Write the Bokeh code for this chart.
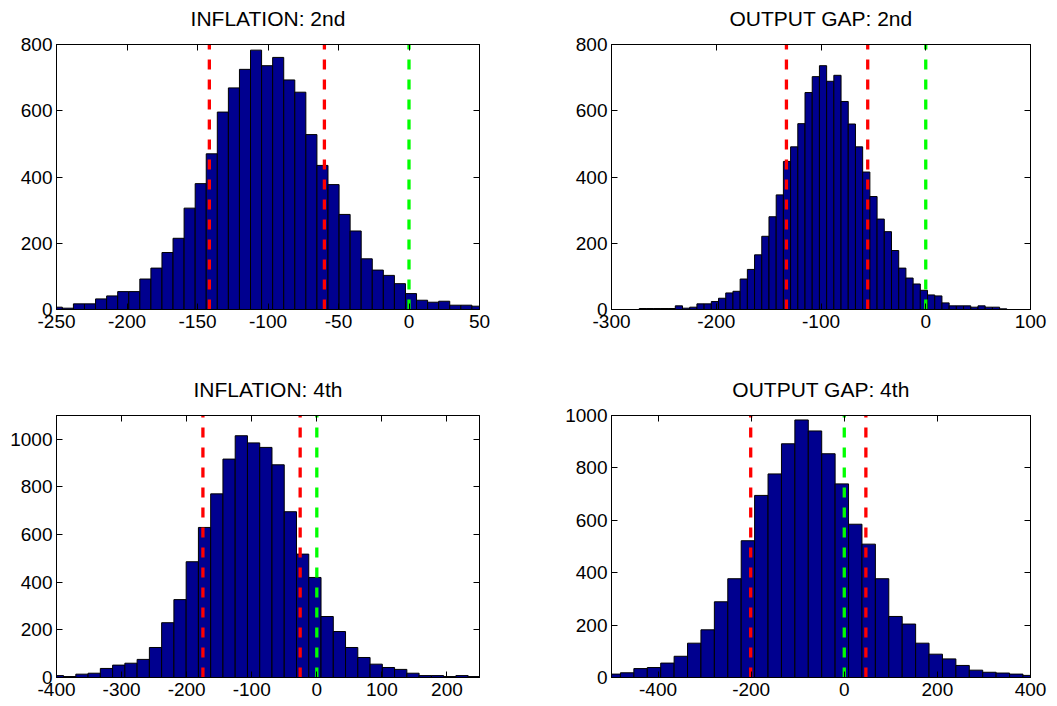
import numpy as np
from bokeh.plotting import figure
from bokeh.layouts import column, row
from bokeh.models import LinearAxis, FixedTicker, Range1d
from bokeh.embed import file_html
from bokeh.resources import INLINE

# ---------------- data ----------------
# INFLATION: 2nd
inf2_title = "INFLATION: 2nd"
inf2_first_edge = -253.7
inf2_bin_width = 7.85
inf2_counts = [7, 4, 17, 17, 32, 41, 54, 54, 92, 125, 172, 215, 306, 380, 470, 596, 669,
               725, 783, 736, 761, 693, 656, 528, 435, 377, 287, 237, 153, 119, 103, 78,
               48, 28, 22, 25, 13, 13, 10]
inf2_red = [-141.6, -60.0]
inf2_green = [0]
inf2_xticks = [-250, -200, -150, -100, -50, 0, 50]
inf2_yticks = [0, 200, 400, 600, 800]
inf2_xlim = (-250, 50)
inf2_ytop = 800

# OUTPUT GAP: 2nd
gap2_title = "OUTPUT GAP: 2nd"
gap2_first_edge = -273.5
gap2_bin_width = 6.88
gap2_counts = [3, 3, 3, 3, 3, 11, 4, 7, 17, 17, 24, 34, 50, 55, 92, 121, 165, 221, 280, 346,
               447, 491, 561, 655, 703, 736, 689, 707, 628, 560, 491, 415, 341, 273, 235,
               178, 125, 95, 77, 58, 44, 41, 20, 11, 11, 11, 7, 11, 7, 7, 2]
gap2_red = [-133.0, -55.4]
gap2_green = [0]
gap2_xticks = [-300, -200, -100, 0, 100]
gap2_yticks = [0, 200, 400, 600, 800]
gap2_xlim = (-300, 100)
gap2_ytop = 800

# INFLATION: 4th
inf4_title = "INFLATION: 4th"
inf4_first_edge = -408.0
inf4_bin_width = 18.84
inf4_counts = [8, 4, 14, 18, 38, 52, 60, 76, 126, 230, 327, 486, 630, 771, 917, 1015, 985,
               966, 893, 696, 518, 420, 256, 193, 126, 84, 56, 42, 34, 18, 8, 8, 4, 8, 4]
inf4_red = [-175.0, -25.6]
inf4_green = [0]
inf4_xticks = [-400, -300, -200, -100, 0, 100, 200]
inf4_yticks = [0, 200, 400, 600, 800, 1000]
inf4_xlim = (-400, 250)
inf4_ytop = 1100

# OUTPUT GAP: 4th
gap4_title = "OUTPUT GAP: 4th"
gap4_first_edge = -509.6
gap4_bin_width = 28.82
gap4_counts = [13, 18, 34, 38, 55, 81, 131, 182, 289, 377, 522, 695, 777, 892, 983, 941,
               854, 739, 585, 509, 377, 233, 204, 131, 89, 71, 46, 28, 20, 17, 13, 8]
gap4_red = [-201.0, 46.4]
gap4_green = [0]
gap4_xticks = [-400, -200, 0, 200, 400]
gap4_yticks = [0, 200, 400, 600, 800, 1000]
gap4_xlim = (-500, 400)
gap4_ytop = 1000

FONT = "Liberation Sans"
BAR = "#00008F"


def style_axis(ax, ticks, labels=True, standoff=4):
    ax.ticker = FixedTicker(ticks=ticks)
    ax.axis_line_color = "black"
    ax.major_tick_line_color = "black"
    ax.major_tick_in = 6
    ax.major_tick_out = 0
    ax.minor_tick_line_color = None
    ax.major_label_text_font = FONT
    ax.major_label_standoff = standoff
    if labels:
        ax.major_label_text_color = "black"
        ax.major_label_text_font_size = "19px"
        ax.major_label_overrides = {t: str(t) for t in ticks}
    else:
        ax.major_label_text_color = None
        ax.major_label_text_font_size = "1px"


def panel(title, first_edge, bin_width, counts, reds, greens, xticks, yticks, xlim, ytop,
          width, height, bl, br, bt, bb):
    counts = np.asarray(counts, dtype=float)
    left = first_edge + bin_width * np.arange(len(counts))
    right = left + bin_width
    p = figure(width=width, height=height, x_range=Range1d(*xlim), y_range=Range1d(0, ytop),
               output_backend="svg", toolbar_location=None,
               min_border_left=bl, min_border_right=br, min_border_top=bt, min_border_bottom=bb)
    p.xgrid.visible = False
    p.ygrid.visible = False
    p.outline_line_color = "black"
    p.outline_line_width = 1
    p.background_fill_color = "white"
    p.border_fill_color = "white"

    p.quad(left=left, right=right, bottom=0, top=counts, fill_color=BAR,
           line_color="black", line_width=1)
    for q in reds:
        p.line(x=[q, q], y=[0, ytop], line_color="#FF0000", line_width=3.3, line_dash="10 10")
    for q in greens:
        p.line(x=[q, q], y=[0, ytop], line_color="#00FF00", line_width=3.3, line_dash="10 10")

    style_axis(p.xaxis[0], xticks, standoff=5)
    style_axis(p.yaxis[0], yticks, standoff=4)
    # top axis: ticks only, carries the panel title as its label
    top_ax = LinearAxis()
    style_axis(top_ax, xticks, labels=False, standoff=0)
    top_ax.axis_label = title
    top_ax.axis_label_text_font = FONT
    top_ax.axis_label_text_font_size = "21px"
    top_ax.axis_label_text_font_style = "normal"
    top_ax.axis_label_text_color = "black"
    top_ax.axis_label_standoff = 15
    p.add_layout(top_ax, "above")
    right_ax = LinearAxis()
    style_axis(right_ax, yticks, labels=False, standoff=0)
    p.add_layout(right_ax, "right")
    return p


p1 = panel(inf2_title, inf2_first_edge, inf2_bin_width, inf2_counts, inf2_red, inf2_green,
           inf2_xticks, inf2_yticks, inf2_xlim, inf2_ytop, 530, 350, 56, 51, 44, 41)
p2 = panel(gap2_title, gap2_first_edge, gap2_bin_width, gap2_counts, gap2_red, gap2_green,
           gap2_xticks, gap2_yticks, gap2_xlim, gap2_ytop, 526, 350, 81, 26, 44, 41)
p3 = panel(inf4_title, inf4_first_edge, inf4_bin_width, inf4_counts, inf4_red, inf4_green,
           inf4_xticks, inf4_yticks, inf4_xlim, inf4_ytop, 530, 355, 56, 51, 65, 28)
p4 = panel(gap4_title, gap4_first_edge, gap4_bin_width, gap4_counts, gap4_red, gap4_green,
           gap4_xticks, gap4_yticks, gap4_xlim, gap4_ytop, 526, 355, 81, 26, 65, 28)

layout = column(row(p1, p2), row(p3, p4))
open("out.html", "w").write(file_html(layout, INLINE))
